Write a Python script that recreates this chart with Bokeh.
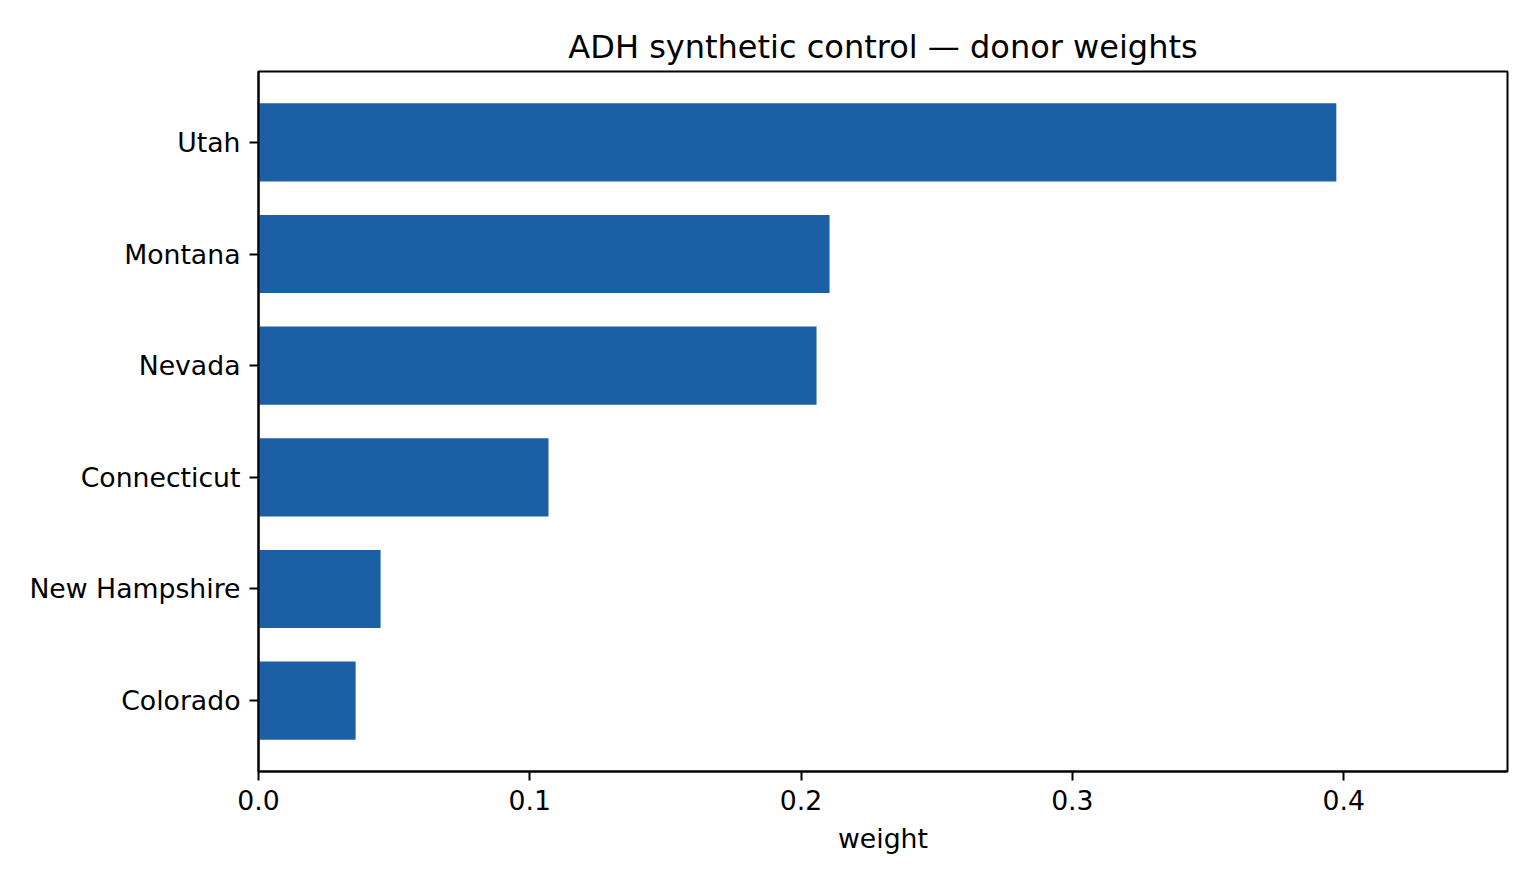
from bokeh.plotting import figure
from bokeh.models import FactorRange, Range1d, FixedTicker, PrintfTickFormatter
from bokeh.embed import file_html
from bokeh.resources import INLINE

# donor weights, bottom to top as drawn
states = ["Colorado", "New Hampshire", "Connecticut", "Nevada", "Montana", "Utah"]
weights = [0.0358, 0.0450, 0.1069, 0.2057, 0.2105, 0.3973]
x_ticks = [0.0, 0.1, 0.2, 0.3, 0.4]

bar_color = "#1b5fa4"
font = "DejaVu Sans"

p = figure(width=1520, height=866, output_backend="svg", toolbar_location=None,
           y_range=FactorRange(factors=states, range_padding=0.135,
                               range_padding_units="absolute"),
           x_range=Range1d(0, 0.4604),
           title="ADH synthetic control \u2014 donor weights",
           min_border_left=258, min_border_right=13,
           min_border_top=71, min_border_bottom=95,
           outline_line_color="black", outline_line_width=2)

p.hbar(y=states, right=weights, left=0, height=0.7, color=bar_color, line_color=None)

p.title.align = "center"
p.title.text_font = font
p.title.text_font_size = "32px"
p.title.text_font_style = "normal"
p.title.text_color = "black"
p.title.standoff = 11

p.xgrid.grid_line_color = None
p.ygrid.grid_line_color = None

for ax in (p.xaxis, p.yaxis):
    ax.axis_line_color = "black"
    ax.axis_line_width = 2
    ax.major_tick_line_color = "black"
    ax.major_tick_line_width = 2
    ax.major_tick_out = 9
    ax.major_tick_in = 0
    ax.minor_tick_line_color = None
    ax.major_label_text_font = font
    ax.major_label_text_font_size = "26.7px"
    ax.major_label_text_color = "black"
    ax.major_label_standoff = 9

p.xaxis.ticker = FixedTicker(ticks=x_ticks)
p.xaxis.formatter = PrintfTickFormatter(format="%.1f")
p.xaxis.axis_label = "weight"
p.xaxis.axis_label_text_font = font
p.xaxis.axis_label_text_font_size = "26.7px"
p.xaxis.axis_label_text_font_style = "normal"
p.xaxis.axis_label_text_color = "black"
p.xaxis.axis_label_standoff = 10

open("out.html", "w").write(file_html(p, INLINE))
